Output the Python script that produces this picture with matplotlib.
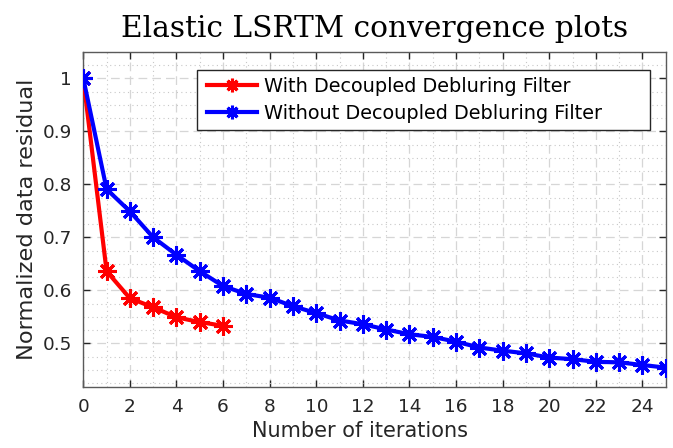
import matplotlib
matplotlib.use("Agg")
import matplotlib.pyplot as plt
from matplotlib.patches import Rectangle
from matplotlib.ticker import MultipleLocator, FixedLocator, FuncFormatter

iters_with = [0, 1, 2, 3, 4, 5, 6]
resid_with = [1.0, 0.636, 0.585, 0.568, 0.549, 0.540, 0.533]

iters_without = list(range(0, 26))
resid_without = [1.0, 0.791, 0.749, 0.700, 0.667, 0.636, 0.608, 0.593, 0.586, 0.570,
                 0.557, 0.543, 0.536, 0.526, 0.517, 0.512, 0.503, 0.492, 0.486, 0.481,
                 0.473, 0.470, 0.465, 0.464, 0.459, 0.454]

labels = ["With Decoupled Debluring Filter", "Without Decoupled Debluring Filter"]
x_ticks = list(range(0, 25, 2))
y_ticks = [0.5, 0.6, 0.7, 0.8, 0.9, 1.0]

W, H = 673, 448
L, R, T, B = 83.3, 665.7, 52, 386.7
fig = plt.figure(figsize=(W/100, H/100), dpi=100)
ax = fig.add_axes([L/W, 1-B/H, (R-L)/W, (B-T)/H])

def ax_x(px):
    return (px - L) / (R - L)

def ax_y(py):
    return (B - py) / (B - T)

axc = '#262626'
asterisk = (8, 2, 0)
ax.plot(iters_with, resid_with, color='#ff0000', lw=3.0, marker=asterisk,
        ms=13, mew=2.2, label=labels[0], zorder=3)
ax.plot(iters_without, resid_without, color='#0000ff', lw=3.0, marker=asterisk,
        ms=13, mew=2.2, label=labels[1], zorder=3)

ax.set_xlim(0, 25)
ax.set_ylim(0.418, 1.05)
ax.xaxis.set_major_locator(FixedLocator(x_ticks))
ax.yaxis.set_major_locator(FixedLocator(y_ticks))
ax.xaxis.set_minor_locator(MultipleLocator(1))
ax.yaxis.set_minor_locator(MultipleLocator(0.025))
ax.yaxis.set_major_formatter(FuncFormatter(lambda v, p: f"{v:g}"))

ax.grid(which='major', color='#d6d6d6', lw=0.9, ls=(0, (7, 4)))
ax.grid(which='minor', color='#c8c8c8', lw=0.8, ls=(0, (1, 3)))
ax.set_axisbelow(True)

ax.tick_params(which='major', direction='in', length=5, width=1, color=axc,
               labelcolor=axc, labelsize=13.3, pad=8,
               top=True, right=True)
ax.tick_params(which='minor', length=0, top=True, right=True)
for s in ax.spines.values():
    s.set_color('#5a5a5a')
    s.set_linewidth(1.0)

ax.set_xlabel("Number of iterations", fontsize=15, color=axc, labelpad=4)
ax.xaxis.label.set_x(ax_x(360))
ax.set_ylabel("Normalized data residual", fontsize=16.2, color=axc, labelpad=4)
ax.set_title("Elastic LSRTM convergence plots", fontsize=21.3, family='DejaVu Serif',
             color='black', pad=11)

# legend frame (MATLAB-style wide box)
frame = Rectangle((ax_x(197), ax_y(130)), ax_x(650) - ax_x(197), ax_y(70) - ax_y(130),
                  transform=ax.transAxes, facecolor='white', edgecolor=axc,
                  lw=1.0, zorder=4.5, clip_on=False)
ax.add_patch(frame)
leg = ax.legend(loc='upper left', bbox_to_anchor=(ax_x(207), ax_y(76.5)), fontsize=13.9,
                frameon=False, handlelength=2.59, handletextpad=0.36, borderpad=0,
                labelspacing=0.43, borderaxespad=0, markerscale=0.75)
leg.set_zorder(5)

fig.savefig("out.png", dpi=100)
